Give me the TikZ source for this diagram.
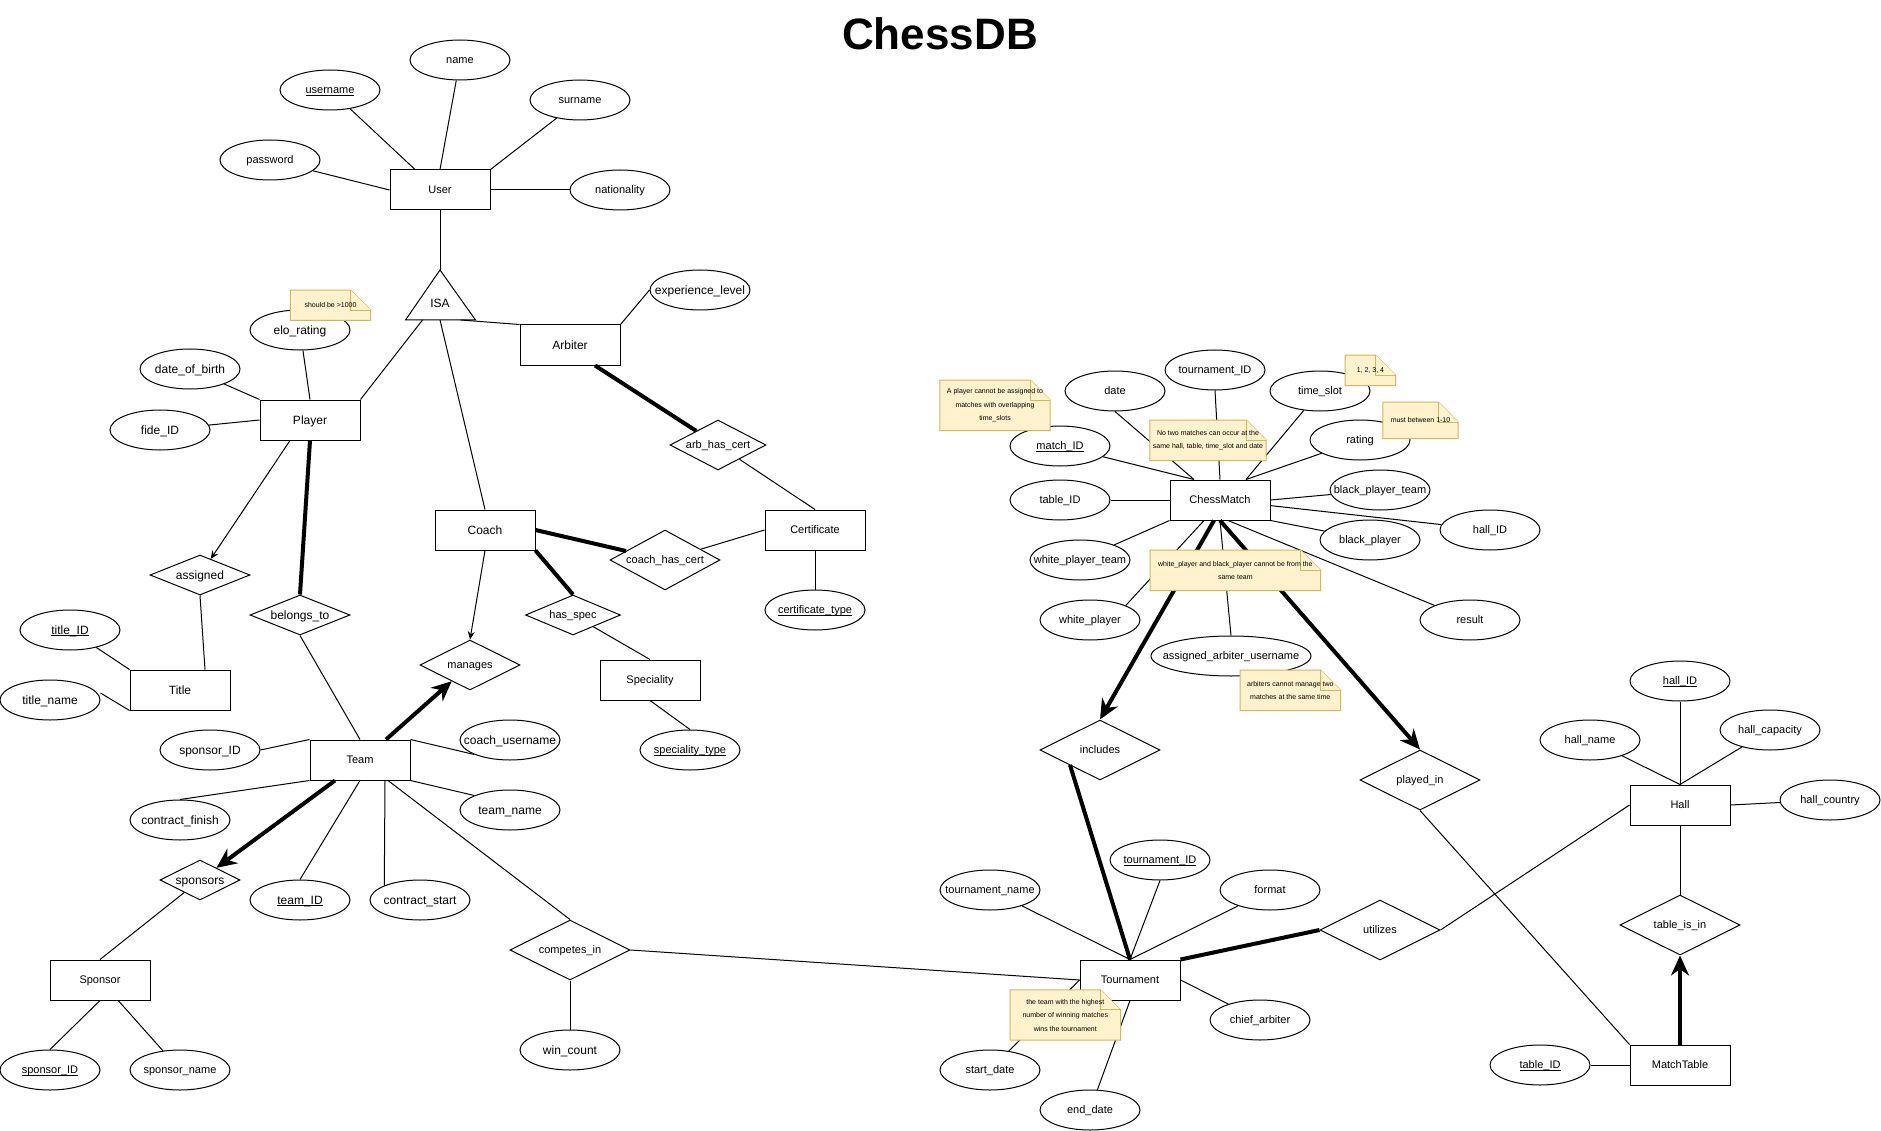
\documentclass[tikz,border=0pt]{standalone}
\usepackage{fontspec}
\setmainfont{Liberation Sans}
\usetikzlibrary{shapes.geometric,arrows.meta}
\definecolor{notefill}{HTML}{FFF2CC}
\definecolor{noteline}{HTML}{D6B656}
\newsavebox\kbox
\newcommand\keyul[1]{\sbox\kbox{#1}\rlap{\rule[-1.8pt]{\wd\kbox}{0.7pt}}\usebox\kbox}
\newcommand\zw[1]{\makebox[0pt][c]{#1}}
\tikzset{
  lbl/.style={font=\fontsize{11}{13}\selectfont, text height=7.9pt, text depth=0pt, inner sep=0pt, line width=1pt, fill=white},
  big/.style={font=\fontsize{12}{14}\selectfont, text height=8.6pt},
  ent/.style={lbl, draw, rectangle, minimum width=100pt, minimum height=40pt},
  attr/.style={lbl, draw, ellipse, minimum width=100pt, minimum height=40pt},
  rel/.style={lbl, draw, diamond, aspect=2, minimum width=120pt, minimum height=60pt},
  conn/.style={line width=1pt},
  heavy/.style={line width=4pt},
  thinarrow/.style={conn, -{Stealth[length=8pt,width=7pt]}},
  heavyarrow/.style={heavy, -{Stealth[length=20pt,width=18pt]}},
  notebg/.style={fill=notefill, draw=noteline, line width=1pt},
  notetxt/.style={font=\fontsize{7}{13.5}\selectfont, align=center, inner sep=0pt},
}
\newcommand\notebox[6]{%
  \path (#2,#3) node[minimum width=#4pt, minimum height=#5pt, inner sep=0pt] (#1) {};
  \filldraw[notebg] (#1.north west) -- ([xshift=-20pt]#1.north east) -- ([yshift=-20pt]#1.north east) -- (#1.south east) -- (#1.south west) -- cycle;
  \draw[notebg] ([xshift=-20pt]#1.north east) -- ([xshift=-20pt,yshift=-20pt]#1.north east) -- ([yshift=-20pt]#1.north east);
  \node[notetxt] (#1-t) at (#1.center) {#6};
}
\begin{document}
\begin{tikzpicture}[x=1pt,y=-1pt]
\useasboundingbox (0,0) rectangle (1881,1131);
\fill[white] (0,0) rectangle (1881,1131);

\node[font=\fontsize{44}{50}\selectfont\bfseries, inner sep=0pt] (heading) at (940,34) {ChessDB};

% entities
\node[ent] (user) at (440,190) {User};
\node[ent, big] (player) at (310,420) {Player};
\node[ent, big] (arbiter) at (570,345) {Arbiter};
\node[ent, big] (coach) at (485,530) {Coach};
\node[ent] (certificate) at (815,530) {Certificate};
\node[ent, big] (titleent) at (180,690) {Title};
\node[ent] (speciality) at (650,680) {Speciality};
\node[ent] (team) at (360,760) {Team};
\node[ent] (sponsor) at (100,980) {Sponsor};
\node[ent] (chessmatch) at (1220,500) {ChessMatch};
\node[ent] (tournament) at (1130,980) {Tournament};
\node[ent] (hall) at (1680,805) {Hall};
\node[ent] (matchtable) at (1680,1065) {MatchTable};

% ISA
\coordinate (isaA) at (440,270);
\coordinate (isaL) at (405.5,320);
\coordinate (isaR) at (475.5,320);
\coordinate (isaP) at (422.5,320);
\coordinate (isaQ) at (460.7,320);
\coordinate (isaC) at (440,320);
\filldraw[fill=white, line width=1pt] (isaA) -- (isaL) -- (isaR) -- cycle;
\node[lbl, big, fill=none] (isa) at (440,303) {ISA};

% attributes
\node[attr] (username) at (330,90) {\zw{\keyul{username}}};
\node[attr] (name) at (460,60) {\zw{name}};
\node[attr] (surname) at (580,100) {\zw{surname}};
\node[attr] (password) at (270,160) {\zw{password}};
\node[attr] (nationality) at (620,190) {\zw{nationality}};
\node[attr, big] (elo) at (300,330) {\zw{elo\_rating}};
\node[attr, big] (dob) at (190,369) {\zw{date\_of\_birth}};
\node[attr, big] (fide) at (160,430) {\zw{fide\_ID}};
\node[attr, big] (explevel) at (700,290) {\zw{experience\_level}};
\node[attr, big] (titleid) at (70,630) {\zw{\keyul{title\_ID}}};
\node[attr, big] (titlename) at (50,700) {\zw{title\_name}};
\node[attr] (certtype) at (815,610) {\zw{\keyul{certificate\_type}}};
\node[attr] (spectype) at (690,750) {\zw{\keyul{speciality\_type}}};
\node[attr, big] (sponsorid) at (210,750) {\zw{sponsor\_ID}};
\node[attr, big] (coachuser) at (510,740) {\zw{coach\_username}};
\node[attr, big] (teamname) at (510,810) {\zw{team\_name}};
\node[attr, big] (contractfinish) at (180,820) {\zw{contract\_finish}};
\node[attr, big] (teamid) at (300,900) {\zw{\keyul{team\_ID}}};
\node[attr, big] (contractstart) at (420,900) {\zw{contract\_start}};
\node[attr, big] (wincount) at (570,1050) {\zw{win\_count}};
\node[attr] (sponsorid2) at (50,1070) {\zw{\keyul{sponsor\_ID}}};
\node[attr] (sponsorname) at (180,1070) {\zw{sponsor\_name}};
\node[attr] (date) at (1115,391) {\zw{date}};
\node[attr] (tournamentid) at (1215,370) {\zw{tournament\_ID}};
\node[attr] (timeslot) at (1320,391) {\zw{time\_slot}};
\node[attr] (rating) at (1360,440) {\zw{rating}};
\node[attr] (matchid) at (1060,446) {\zw{\keyul{match\_ID}}};
\node[attr] (tableid) at (1060,500) {\zw{table\_ID}};
\node[attr] (blackplayerteam) at (1380,490) {\zw{black\_player\_team}};
\node[attr] (hallid) at (1490,530) {\zw{hall\_ID}};
\node[attr] (blackplayer) at (1370,540) {\zw{black\_player}};
\node[attr] (whiteplayerteam) at (1080,560) {\zw{white\_player\_team}};
\node[attr] (whiteplayer) at (1090,620) {\zw{white\_player}};
\node[attr, minimum width=160pt] (aau) at (1231,656) {\zw{assigned\_arbiter\_username}};
\node[attr] (result) at (1470,620) {\zw{result}};
\node[attr] (tournamentname) at (990,890) {\zw{tournament\_name}};
\node[attr] (tournamentid2) at (1160,860) {\zw{\keyul{tournament\_ID}}};
\node[attr] (format) at (1270,890) {\zw{format}};
\node[attr] (chiefarbiter) at (1260,1020) {\zw{chief\_arbiter}};
\node[attr] (startdate) at (990,1070) {\zw{start\_date}};
\node[attr] (enddate) at (1090,1110) {\zw{end\_date}};
\node[attr] (hallid2) at (1680,681) {\zw{\keyul{hall\_ID}}};
\node[attr] (hallname) at (1590,740) {\zw{hall\_name}};
\node[attr] (hallcapacity) at (1770,730) {\zw{hall\_capacity}};
\node[attr] (hallcountry) at (1830,800) {\zw{hall\_country}};
\node[attr] (tableid2) at (1540,1065) {\zw{\keyul{table\_ID}}};

% relationships
\node[rel, big, minimum width=100pt, minimum height=40pt] (assigned) at (200,575) {\zw{assigned}};
\node[rel, big, minimum width=100pt, minimum height=40pt] (belongs) at (300,615) {\zw{belongs\_to}};
\node[rel, minimum width=96pt, minimum height=50pt] (arbhascert) at (718,445) {\zw{arb\_has\_cert}};
\node[rel, minimum width=110pt, minimum height=60pt] (coachhascert) at (665,560) {\zw{coach\_has\_cert}};
\node[rel, minimum width=95pt, minimum height=40pt] (hasspec) at (573,615) {\zw{has\_spec}};
\node[rel, minimum width=100pt, minimum height=50pt] (manages) at (470,665) {\zw{manages}};
\node[rel, big, minimum width=80pt, minimum height=40pt] (sponsors) at (200,880) {\zw{sponsors}};
\node[rel] (competesin) at (570,950) {\zw{competes\_in}};
\node[rel] (includes) at (1100,750) {\zw{includes}};
\node[rel] (playedin) at (1420,780) {\zw{played\_in}};
\node[rel] (utilizes) at (1380,930) {\zw{utilizes}};
\node[rel] (tableisin) at (1680,925) {\zw{table\_is\_in}};

% connectors: User
\draw[conn] (username) -- ([xshift=-25pt]user.north);
\draw[conn] (name) -- (user.north);
\draw[conn] (surname) -- (user.north east);
\draw[conn] (password) -- (user.west);
\draw[conn] (nationality) -- (user.east);
\draw[conn] (user.south) -- (isaA);
% Player
\draw[conn] (isaP) -- (player.north east);
\draw[conn] (elo) -- (player.north);
\draw[conn] (dob) -- (player.north west);
\draw[conn] (fide) -- (player.west);
\draw[thinarrow] ([xshift=-20pt]player.south) -- (assigned);
\draw[heavy] (player.south) -- (belongs.north);
\draw[conn] (assigned.south) -- ([xshift=25pt]titleent.north);
\draw[conn] (titleid) -- (titleent.north west);
\draw[conn] ([yshift=7pt]titlename.east) -- (titleent.south west);
\draw[conn] (belongs.south) -- (team.north);
% Arbiter
\draw[conn] (isaQ) -- (arbiter.north west);
\draw[conn] (arbiter.north east) -- (explevel.west);
\draw[heavy] ([xshift=25pt]arbiter.south) -- (arbhascert);
\draw[conn] (arbhascert) -- (certificate.north);
% Coach
\draw[conn] (isaC) -- (coach.north);
\draw[thinarrow] (coach.south) -- (manages.north);
\draw[heavy] (coach.east) -- (coachhascert);
\draw[conn] (coachhascert) -- (certificate.west);
\draw[heavy] (coach.south east) -- (hasspec.north);
\draw[conn] (hasspec) -- (speciality.north);
\draw[conn] (speciality.south) -- (spectype.north);
\draw[conn] (certificate.south) -- (certtype.north);
% Team
\draw[heavyarrow] ([xshift=26pt]team.north) -- (manages);
\draw[conn] (sponsorid.east) -- (team.north west);
\draw[conn] (team.north east) -- (coachuser.south west);
\draw[conn] (team.south east) -- (teamname.north west);
\draw[conn] (team.south west) -- (contractfinish.north);
\draw[heavyarrow] ([xshift=-25pt]team.south) -- (sponsors);
\draw[conn] (team.south) -- (teamid.north);
\draw[conn] ([xshift=25pt]team.south) -- (contractstart.north west);
\draw[conn] ([xshift=28pt]team.south) -- (competesin.north);
\draw[conn] (sponsors) -- (sponsor.north);
\draw[conn] (sponsor.south) -- (sponsorid2.north);
\draw[conn] (sponsor) -- (sponsorname);
\draw[conn] (competesin.east) -- (tournament.west);
\draw[conn] (competesin.south) -- (wincount.north);
% ChessMatch
\draw[conn] (date.south) -- ([xshift=-26pt]chessmatch.north);
\draw[conn] (tournamentid.south) -- (chessmatch.north);
\draw[conn] (timeslot) -- ([xshift=26pt]chessmatch.north);
\draw[conn] (rating) -- ([xshift=26pt]chessmatch.north);
\draw[conn] (matchid) -- ([xshift=-26pt]chessmatch.north);
\draw[conn] (tableid) -- (chessmatch.west);
\draw[conn] (chessmatch.east) -- (blackplayerteam);
\draw[conn] (chessmatch) -- (hallid);
\draw[conn] (chessmatch.south east) -- (blackplayer);
\draw[conn] (chessmatch.south west) -- (whiteplayerteam);
\draw[conn] ([xshift=-16pt]chessmatch.south) -- (whiteplayer.north east);
\draw[heavyarrow] ([xshift=-6pt]chessmatch.south) -- (includes.north);
\draw[conn] (chessmatch.south) -- (aau.north);
\draw[heavyarrow] (chessmatch.south) -- (playedin.north);
\draw[conn] ([xshift=8pt]chessmatch.south) -- (result);
% Tournament
\draw[heavy] ([xshift=-30pt,yshift=-15pt]includes.center) -- (tournament.north);
\draw[conn] (tournamentname) -- (tournament.north);
\draw[conn] (tournamentid2.south) -- (tournament.north);
\draw[conn] (format) -- (tournament.north);
\draw[heavy] (tournament.north east) -- (utilizes.west);
\draw[conn] (tournament.east) -- (chiefarbiter);
\draw[conn] (startdate) -- (tournament.west);
\draw[conn] (tournament.south) -- (enddate);
% Hall
\draw[conn] (utilizes.east) -- (hall.west);
\draw[conn] (hallid2.south) -- (hall.north);
\draw[conn] (hallname) -- (hall.north);
\draw[conn] (hallcapacity) -- (hall.north);
\draw[conn] (hall.east) -- (hallcountry);
\draw[conn] (hall.south) -- (tableisin.north);
\draw[heavyarrow] (matchtable.north) -- (tableisin.south);
\draw[conn] (playedin.south) -- (matchtable.north west);
\draw[conn] (tableid2.east) -- (matchtable.west);

% notes
\notebox{n1}{330.5}{305.3}{80}{30}{should be >1000}
\notebox{n2}{995}{405.3}{110}{50}{A player cannot be assigned to\\matches with overlapping\\time\_slots}
\notebox{n3}{1208}{440.3}{116}{40}{No two matches can occur at the\\same hall, table, time\_slot and date}
\notebox{n4}{1370.4}{370.3}{50}{30}{1, 2, 3, 4}
\notebox{n5}{1420.5}{420.3}{75}{36}{must between 1-10}
\notebox{n6}{1235.3}{570.3}{170}{40}{white\_player and black\_player cannot be from the\\same team}
\notebox{n7}{1290.3}{690.3}{100}{40}{arbiters cannot manage two\\matches at the same time}
\notebox{n8}{1065.3}{1015}{110}{50}{the team with the highest\\number of winning matches\\wins the tournament}
\end{tikzpicture}
\end{document}
